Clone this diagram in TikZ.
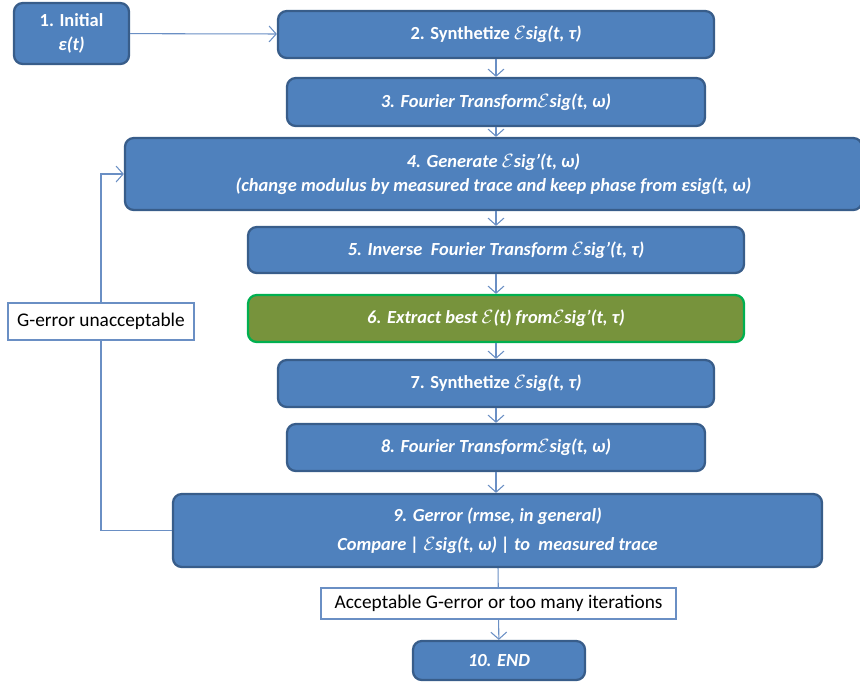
\documentclass[tikz,border=0pt]{standalone}
\usepackage{fontspec}
\setmainfont{Carlito}
\usepackage{amsmath}
\usepackage{tikz}
\usetikzlibrary{arrows.meta}
\definecolor{boxfill}{HTML}{4F81BD}
\definecolor{boxline}{HTML}{385D8A}
\definecolor{olivefill}{HTML}{77933C}
\definecolor{greenline}{HTML}{00B050}
\definecolor{linkcol}{HTML}{6A8FC4}
\newcommand{\Esig}{$\mathcal{E}$sig}
\tikzset{
  stepbox/.style={rectangle, rounded corners=5pt, draw=boxline, line width=1.3pt,
    fill=boxfill, text=white, font=\fontsize{10.5}{12.6}\selectfont\bfseries\itshape,
    align=center, inner sep=2pt},
  labelbox/.style={rectangle, draw=linkcol, line width=0.6pt, fill=white,
    text=black, font=\fontsize{11}{13}\selectfont, inner sep=2pt},
  link/.style={linkcol, line width=0.6pt, >={Straight Barb[length=4pt,width=9pt]}},
}

\begin{document}
\begin{tikzpicture}
  \useasboundingbox (0,0) rectangle (17.2,-13.64);
  % steps
  \node[stepbox, minimum width=2.3cm, minimum height=1.22cm] (init) at (1.43,-0.67)
    {{\upshape 1. Initial}\\[1pt] ε(t)};
  \node[stepbox, minimum width=8.72cm, minimum height=0.94cm] (synth) at (9.92,-0.69)
    {{\upshape 2. Synthetize} \Esig(t, τ)};
  \node[stepbox, minimum width=8.36cm, minimum height=0.96cm] (fourier) at (9.92,-2.04)
    {3. Fourier Transform\Esig(t, ω)};
  \node[stepbox, minimum width=14.74cm, minimum height=1.44cm] (gener) at (9.87,-3.48)
    {4. Generate \Esig’(t, ω)\\[1pt]
     (change modulus by measured trace and keep phase from εsig(t, ω)};
  \node[stepbox, minimum width=9.92cm, minimum height=0.92cm] (inverse) at (9.92,-5.0)
    {5. Inverse\ \ Fourier Transform \Esig’(t, τ)};
  \node[stepbox, draw=greenline, fill=olivefill, minimum width=9.92cm, minimum height=0.94cm] (extract) at (9.92,-6.37)
    {6. Extract best $\mathcal{E}$(t) from\Esig’(t, τ)};
  \node[stepbox, minimum width=8.72cm, minimum height=0.94cm] (synthb) at (9.92,-7.67)
    {{\upshape 7. Synthetize} \Esig(t, τ)};
  \node[stepbox, minimum width=8.36cm, minimum height=0.94cm] (fourierb) at (9.92,-8.95)
    {8. Fourier Transform\Esig(t, ω)};
  \node[stepbox, minimum width=12.98cm, minimum height=1.46cm] (gerror) at (9.95,-10.61)
    {9. Gerror (rmse, in general)\\[4pt]
     Compare | \Esig(t, ω) |\ to\ \ measured trace};
  \node[labelbox, minimum width=7.1cm, minimum height=0.62cm] (accept) at (9.97,-12.07)
    {Acceptable G-error or too many iterations};
  \node[stepbox, minimum width=3.44cm, minimum height=0.78cm] (finish) at (9.98,-13.21)
    {10. END};
  \node[labelbox, minimum width=3.72cm, minimum height=0.74cm] (unaccept) at (2.02,-6.43)
    {G-error unacceptable};

  % connectors
  \draw[link,->] (init) -- (synth);
  \draw[link,->] (synth) -- (fourier);
  \draw[link,->] (fourier) -- (fourier |- gener.north);
  \draw[link,->] (fourier |- gener.south) -- (inverse);
  \draw[link,->] (inverse) -- (extract);
  \draw[link,->] (extract) -- (synthb);
  \draw[link,->] (synthb) -- (fourierb);
  \draw[link,->] (fourierb) -- (fourierb |- gerror.north);
  \draw[link] (gerror) -- (accept);
  \draw[link,->] (accept) -- (finish);
  \draw[link] (gerror.west) -| (unaccept.south);
  \draw[link,->] (unaccept.north) |- (gener.west);
\end{tikzpicture}
\end{document}
